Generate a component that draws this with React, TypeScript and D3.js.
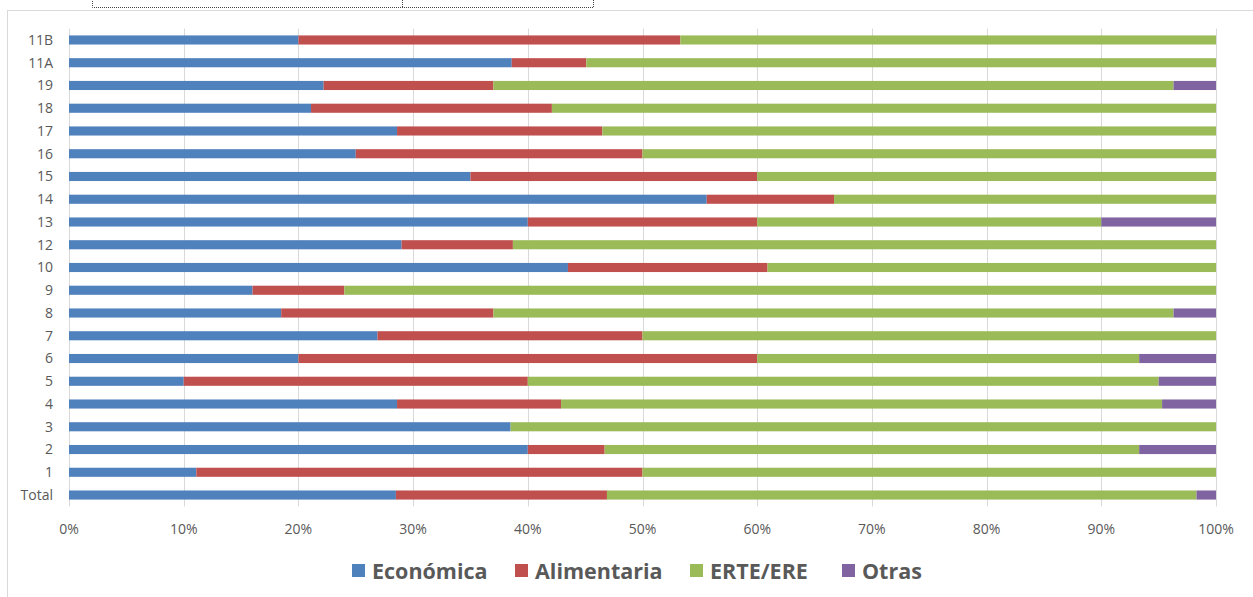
import React from "react";
import * as d3 from "d3";

// Categories, top to bottom as drawn
const categories = ["11B", "11A", "19", "18", "17", "16", "15", "14", "13", "12", "10", "9", "8", "7", "6", "5", "4", "3", "2", "1", "Total"];

// Shares (%) per category
const economica = [20.0, 38.6, 22.2, 21.1, 28.6, 25.0, 35.0, 55.6, 40.0, 29.0, 43.5, 16.0, 18.5, 26.9, 20.0, 10.0, 28.6, 38.5, 40.0, 11.1, 28.5];
const alimentaria = [33.3, 6.5, 14.8, 21.0, 17.9, 25.0, 25.0, 11.1, 20.0, 9.7, 17.4, 8.0, 18.5, 23.1, 40.0, 30.0, 14.3, 0.0, 6.7, 38.9, 18.4];
const erte = [46.7, 54.9, 59.3, 57.9, 53.5, 50.0, 40.0, 33.3, 30.0, 61.3, 39.1, 76.0, 59.3, 50.0, 33.3, 55.0, 52.4, 61.5, 46.6, 50.0, 51.4];
const otras = [0.0, 0.0, 3.7, 0.0, 0.0, 0.0, 0.0, 0.0, 10.0, 0.0, 0.0, 0.0, 3.7, 0.0, 6.7, 5.0, 4.7, 0.0, 6.7, 0.0, 1.7];

const seriesNames = ["Económica", "Alimentaria", "ERTE/ERE", "Otras"];
const seriesColors = ["#4F81BD", "#C0504D", "#9BBB59", "#8064A2"];
const xTicks = [0, 10, 20, 30, 40, 50, 60, 70, 80, 90, 100];

const W = 1253;
const H = 597;
const plot = { left: 69, right: 1216, top: 28.6, bottom: 506.4 };
const FONT = "'Open Sans', 'DejaVu Sans', sans-serif";
const TXT = "#595959";

export default function App() {
  const x = d3.scaleLinear().domain([0, 100]).range([plot.left, plot.right]);
  const y = d3
    .scaleBand<string>()
    .domain(categories)
    .range([plot.top, plot.bottom])
    .paddingInner(0.6)
    .paddingOuter(0.3);

  const rows = categories.map((c, i) => ({
    cat: c,
    "Económica": economica[i],
    Alimentaria: alimentaria[i],
    "ERTE/ERE": erte[i],
    Otras: otras[i],
  }));
  const stack = d3.stack<any>().keys(seriesNames)(rows);

  const legendX = [352, 515, 690, 842];

  return (
    <svg
      width={W}
      height={H}
      style={{ position: "absolute", left: 0, top: 0, background: "#fff" }}
    >
      {/* chart border */}
      <rect x={7.5} y={10.5} width={W + 10} height={H + 10} fill="#fff" stroke="#d9d9d9" strokeWidth={1} />
      {/* dotted selection box at top */}
      <rect x={92.5} y={-5} width={501} height={12.5} fill="none" stroke="#444" strokeWidth={1} strokeDasharray="1,1" />
      <line x1={402.5} x2={402.5} y1={0} y2={7.5} stroke="#444" strokeDasharray="1,1" />

      {/* gridlines */}
      {xTicks.map((t) => (
        <line
          key={"g" + t}
          x1={Math.round(x(t)) + 0.5}
          x2={Math.round(x(t)) + 0.5}
          y1={plot.top}
          y2={plot.bottom}
          stroke="#d9d9d9"
          strokeWidth={1}
        />
      ))}

      {/* bars */}
      {stack.map((s, si) => (
        <g key={s.key} fill={seriesColors[si]}>
          {s.map((d, i) =>
            d[1] - d[0] > 0 ? (
              <rect
                key={i}
                x={x(d[0])}
                y={y(categories[i])!}
                width={x(d[1]) - x(d[0])}
                height={y.bandwidth()}
              />
            ) : null
          )}
        </g>
      ))}

      {/* category labels */}
      {categories.map((c) => (
        <text
          key={"c" + c}
          x={53}
          y={y(c)! + y.bandwidth() / 2}
          dy="0.35em"
          textAnchor="end"
          fontFamily={FONT}
          fontSize={14}
          fill={TXT}
        >
          {c}
        </text>
      ))}

      {/* x tick labels */}
      {xTicks.map((t) => (
        <text
          key={"t" + t}
          x={x(t)}
          y={529}
          dy="0.35em"
          textAnchor="middle"
          fontFamily={FONT}
          fontSize={14}
          fill={TXT}
        >
          {t + "%"}
        </text>
      ))}

      {/* legend */}
      {seriesNames.map((n, i) => (
        <g key={"l" + n}>
          <rect x={legendX[i]} y={564} width={13} height={13} fill={seriesColors[i]} />
          <text
            x={legendX[i] + 20}
            y={571}
            dy="0.35em"
            fontFamily={FONT}
            fontWeight="bold"
            fontSize={21.5}
            fill={TXT}
          >
            {n}
          </text>
        </g>
      ))}
    </svg>
  );
}
